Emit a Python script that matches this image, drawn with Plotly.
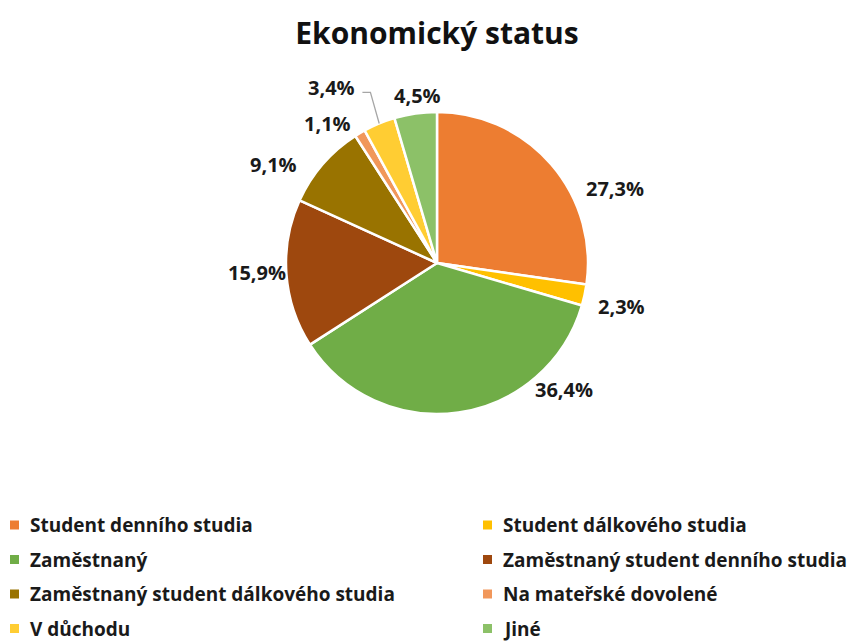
import math
import plotly.graph_objects as go

# Data: economic status of respondents (counts)
categories = [
    "Student denního studia",
    "Student dálkového studia",
    "Zaměstnaný",
    "Zaměstnaný student denního studia",
    "Zaměstnaný student dálkového studia",
    "Na mateřské dovolené",
    "V důchodu",
    "Jiné",
]
counts = [24, 2, 32, 14, 8, 1, 3, 4]
colors = ["#ED7D31", "#FFC000", "#70AD47", "#9E480E",
          "#997300", "#F1975A", "#FFCD33", "#8CC168"]

# Label placement tweaks (angle nudge in degrees, distance from centre in px)
label_nudge = [18.3, 0.9, -37.0, 1.1, -10.0, -7.5, -8.5, 1.7]
label_dist = [193, 189, 179, 180, 191, 177, 205, 169]

W, H = 862, 642
CX, CY, R = 437, 263, 151
FONT = "Open Sans"


def px(x):
    return x / W


def py(y):
    return 1 - y / H


total = sum(counts)
pcts = [c / total * 100 for c in counts]

fig = go.Figure(go.Pie(
    labels=categories,
    values=counts,
    sort=False,
    direction="clockwise",
    rotation=0,
    marker=dict(colors=colors, line=dict(color="white", width=2.5)),
    textinfo="none",
    hoverinfo="label+percent",
    domain=dict(x=[px(CX - R), px(CX + R)], y=[py(CY + R), py(CY - R)]),
    showlegend=False,
))

annotations = []
shapes = []

# Percentage labels around the pie
cum = 0.0
for i, p in enumerate(pcts):
    mid = (cum + p / 2) / 100 * 360
    cum += p
    ang = math.radians(mid + label_nudge[i])
    lx = CX + label_dist[i] * math.sin(ang)
    ly = CY - label_dist[i] * math.cos(ang)
    txt = f"{p:.1f}%".replace(".", ",")
    annotations.append(dict(
        x=px(lx), y=py(ly), xref="paper", yref="paper",
        text=f"<b>{txt}</b>", showarrow=False,
        xanchor="center", yanchor="middle",
        font=dict(family=FONT, size=20, color="#1a1a1a"),
    ))
    if i == 6:
        # leader line from the label to its slice
        ex = CX + R * math.sin(math.radians(mid))
        ey = CY - R * math.cos(math.radians(mid))
        sx, sy = lx + 31, ly + 5
        kx = sx + 8
        shapes.append(dict(
            type="path", xref="paper", yref="paper",
            path=f"M{px(sx)},{py(sy)} L{px(kx)},{py(sy)} L{px(ex)},{py(ey)}",
            line=dict(color="#A6A6A6", width=1.3),
        ))

# Two-column legend beneath the pie
col_marker_x = [10, 483]
col_text_x = [28, 501]
row_y0, row_step = 525, 34.5
for i, (name, col) in enumerate(zip(categories, colors)):
    c, r = i % 2, i // 2
    yc = row_y0 + r * row_step
    mx = col_marker_x[c]
    shapes.append(dict(
        type="rect", xref="paper", yref="paper",
        x0=px(mx), x1=px(mx + 9), y0=py(yc - 4.5), y1=py(yc + 4.5),
        fillcolor=col, line=dict(width=0),
    ))
    annotations.append(dict(
        x=px(col_text_x[c]), y=py(yc), xref="paper", yref="paper",
        text=f"<b>{name}</b>", showarrow=False,
        xanchor="left", yanchor="middle",
        font=dict(family=FONT, size=19, color="#1a1a1a"),
    ))

fig.update_layout(
    width=W, height=H,
    margin=dict(l=0, r=0, t=0, b=0),
    paper_bgcolor="white",
    plot_bgcolor="white",
    title=dict(
        text="<b>Ekonomický status</b>",
        x=px(437), xanchor="center",
        y=py(33), yanchor="middle",
        font=dict(family=FONT, size=30, color="#111111"),
    ),
    annotations=annotations,
    shapes=shapes,
)

fig.write_html("out.html")
